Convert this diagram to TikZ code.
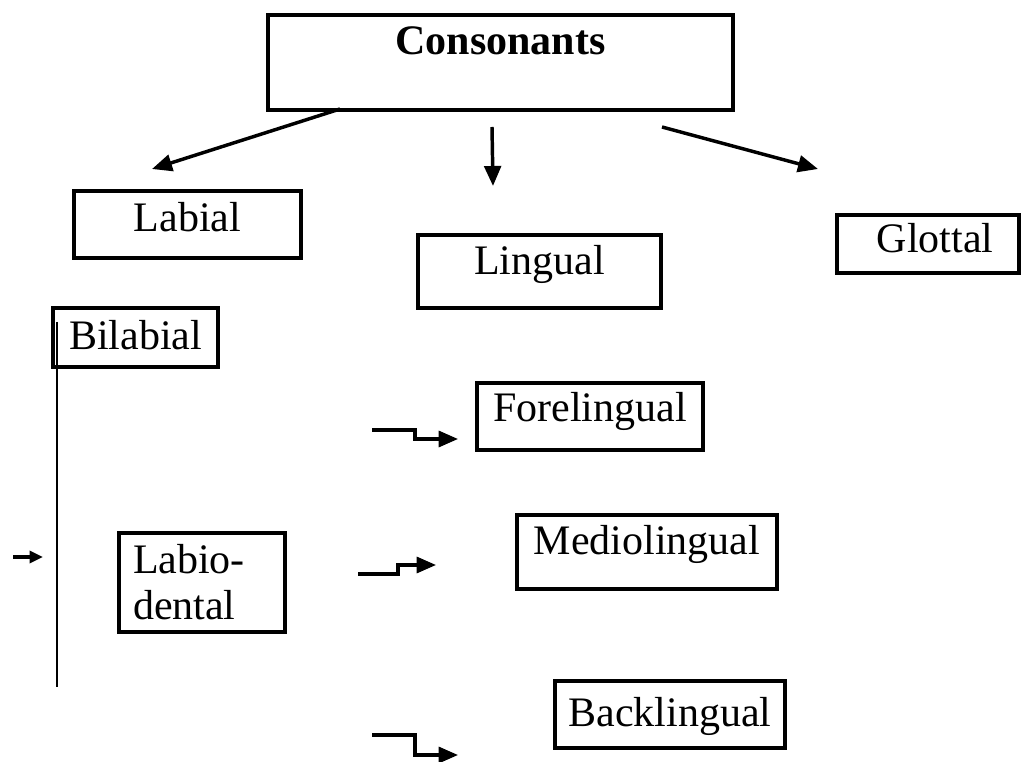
\documentclass[tikz,border=0pt]{standalone}
\usepackage{fontspec}
\setmainfont{Liberation Serif}
\usetikzlibrary{arrows.meta}
\begin{document}
\begin{tikzpicture}[x=0.75pt,y=-0.75pt,
  box/.style={draw,line width=2.6pt,inner sep=0pt,
    font=\fontsize{31.5pt}{34.5pt}\selectfont,text height=22.5pt},
  arr/.style={line width=2.6pt,-{Triangle[length=15pt,width=12.5pt]}},
  elbow/.style={line width=2.4pt,-{Triangle[length=14.5pt,width=12pt]}},
  tick/.style={line width=2.4pt,-{Triangle[length=10pt,width=9pt]}},
  rail/.style={line width=1pt}]
\useasboundingbox (0,0) rectangle (1021,762);

% category boxes
\node[box,minimum width=348.75pt,minimum height=71.25pt,text depth=33.75pt,font=\fontsize{31.5pt}{34.5pt}\selectfont\bfseries]
  (cons) at (500.5,62.5) {Consonants};
\node[box,minimum width=170.25pt,minimum height=50.25pt,text depth=11.25pt] (labial) at (187.5,224.5) {Labial};
\node[box,minimum width=182.25pt,minimum height=54.75pt,text depth=17.25pt] (lingual) at (539.5,271.5) {Lingual};
\node[box,minimum width=136.5pt,minimum height=43.5pt,text depth=9pt] (glottal) at (928,244) {\hspace*{10.5pt}Glottal};
\node[box,minimum width=123.75pt,minimum height=44.25pt,text depth=3.75pt] (bilabial) at (135.5,337.5) {Bilabial};
\node[box,minimum width=124.5pt,minimum height=74.25pt,text width=103.5pt,align=left,text depth=35.25pt]
  (labiodental) at (202,582.5) {Labio-\\dental};
\node[box,minimum width=169.5pt,minimum height=50.25pt,text depth=14.25pt] (fore) at (590,416.5) {Forelingual};
\node[box,minimum width=195pt,minimum height=55.5pt,text depth=18pt] (medio) at (647,552) {Mediolingual};
\node[box,minimum width=172.5pt,minimum height=50.25pt,text depth=5.25pt] (back) at (670,714.5) {Backlingual};

% connector end points
\coordinate (c1) at (340,109);  \coordinate (t1) at (152,169);
\coordinate (c2) at (492,127);  \coordinate (t2) at (493,186);
\coordinate (c3) at (662,127);  \coordinate (t3) at (818,169);
\coordinate (r1) at (57,322);   \coordinate (r2) at (57,687);
\coordinate (k1) at (13,557);   \coordinate (k2) at (43,557);
\coordinate (e1) at (372,430);  \coordinate (f1) at (458,439);
\coordinate (e2) at (358,574);  \coordinate (f2) at (436,565);
\coordinate (e3) at (372,735);  \coordinate (f3) at (458,755);

% arrows from the top box
\draw[arr] (c1) -- (t1);
\draw[arr] (c2) -- (t2);
\draw[arr] (c3) -- (t3);

% labial bracket
\draw[rail] (r1) -- (r2);
\draw[tick] (k1) -- (k2);

% stepped arrows to the lingual subclasses
\draw[elbow] (e1) -- (415,430) -- (415,439) -- (f1);
\draw[elbow] (e2) -- (398,574) -- (398,565) -- (f2);
\draw[elbow] (e3) -- (415,735) -- (415,755) -- (f3);
\end{tikzpicture}
\end{document}
